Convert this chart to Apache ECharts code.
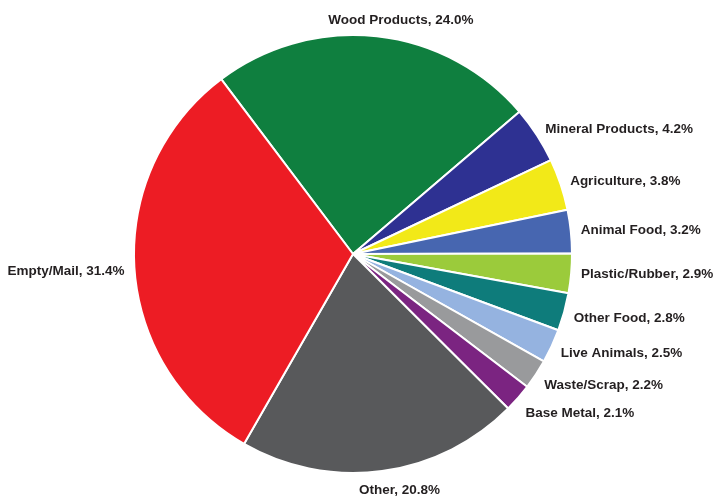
<!DOCTYPE html>
<html><head><meta charset="utf-8">
<script src="https://cdn.jsdelivr.net/npm/echarts@6/dist/echarts.min.js"></script>
<style>html,body{margin:0;padding:0;background:#fff}#c{width:715px;height:500px}</style>
</head><body><div id="c"></div>
<script>
const categories = ['Wood Products','Mineral Products','Agriculture','Animal Food','Plastic/Rubber','Other Food','Live Animals','Waste/Scrap','Base Metal','Other','Empty/Mail'];
const values = [24.0, 4.2, 3.8, 3.2, 2.9, 2.8, 2.5, 2.2, 2.1, 20.8, 31.4];
const colors = ['#0F7F3F','#2E3192','#F2E918','#4766B0','#9BCB3B','#0E7C7B','#95B3E0','#999A9C','#7B2481','#58595B','#ED1C24'];

const chart = echarts.init(document.getElementById('c'), null, {renderer:'canvas'});
chart.setOption({
  animation:false,
  series:[{
    type:'pie',
    center:[353,254],
    radius:219,
    startAngle:127,
    clockwise:true,
    avoidLabelOverlap:true,
    itemStyle:{borderColor:'#fff', borderWidth:2},
    label:{
      show:true, position:'outside', overflow:'none', bleedMargin:0, edgeDistance:0,
      fontFamily:'Liberation Sans, Arial, sans-serif', fontWeight:'bold', fontSize:13.5, color:'#231F20',
      formatter: p => p.name + ', ' + p.value.toFixed(1) + '%',
      distanceToLabelLine:0
    },
    labelLine:{show:false, length:10, length2:0},
    labelLayout: function (p) {
      if (p.dataIndex === 0) return {align:'center', dx:23, dy:-6};
      if (p.dataIndex === 9) return {align:'center', dx:16, dy:9};
      if (p.dataIndex === 8) return {dy:9};
      if (p.dataIndex === 7) return {dy:5};
      if (p.dataIndex === 6) return {dy:3};
      if (p.dataIndex === 5) return {dy:4};
      if (p.dataIndex === 10) return {dy:3};
      return {};
    },
    data: categories.map((n,i)=>({name:n, value:values[i], itemStyle:{color:colors[i]}}))
  }]
});
</script></body></html>
